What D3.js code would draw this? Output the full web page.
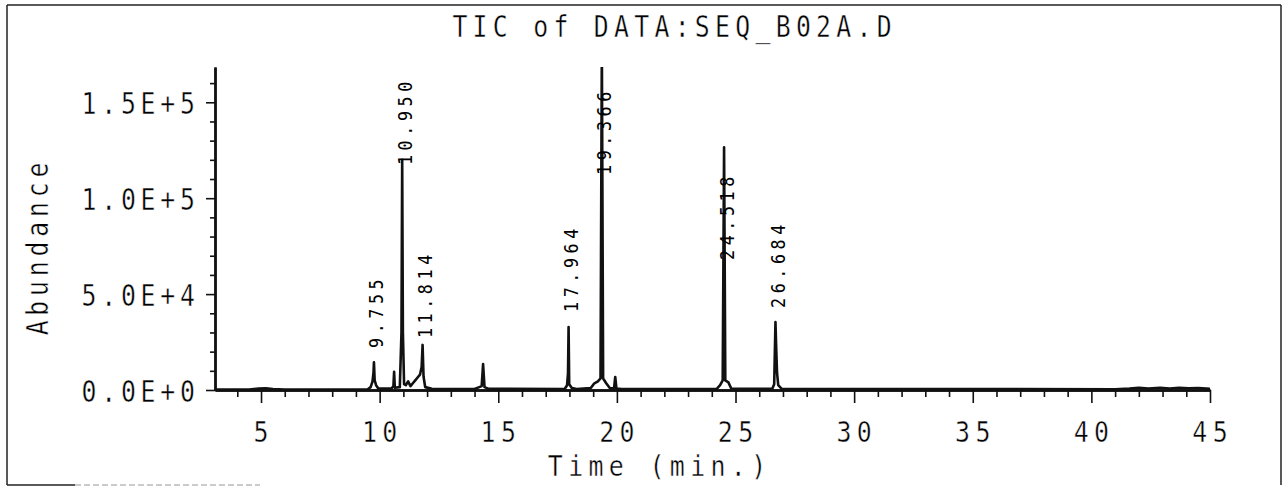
<!DOCTYPE html>
<html>
<head>
<meta charset="utf-8">
<script src="https://cdn.jsdelivr.net/npm/d3@7"></script>
<style>
  body { margin: 0; background: #fff; }
  svg { display: block; }
  .plot { font-family: "DejaVu Sans Mono", monospace; fill: #000; }
  .thin { stroke: #fff; stroke-width: 0.45px; }
</style>
</head>
<body>
<svg id="tic" width="1285" height="487"></svg>
<script>
// total ion chromatogram
const times = [
  3.05, 4.5, 4.9, 5.2, 5.5, 6.0, 9.5, 9.62, 9.7, 9.74, 9.76, 9.79, 9.85, 9.95,
  10.5, 10.58, 10.61, 10.64, 10.85, 10.92, 10.95, 10.98, 11.03, 11.1, 11.2, 11.3,
  11.4, 11.5, 11.6, 11.7, 11.77, 11.81, 11.85, 11.92, 12.2, 14.0, 14.2, 14.3,
  14.36, 14.42, 14.6, 17.8, 17.9, 17.94, 17.964, 17.99, 18.1, 18.3, 18.9, 19.05,
  19.2, 19.31, 19.366, 19.42, 19.55, 19.7, 19.88, 19.93, 19.98, 20.2, 24.2, 24.35,
  24.46, 24.518, 24.57, 24.7, 24.82, 26.55, 26.63, 26.684, 26.71, 26.75, 26.8,
  26.95, 41.0, 41.6, 42.0, 42.4, 42.9, 43.3, 43.7, 44.1, 44.5, 45.0
];
const abundance = [
  300, 300, 700, 900, 500, 300, 400, 1500, 4500, 9000, 14500, 5000, 2500, 700,
  800, 2000, 9500, 1200, 1500, 30000, 120000, 30000, 3000, 2500, 4500, 2000,
  3500, 5000, 6500, 8000, 12000, 23500, 7000, 1500, 600, 500, 1500, 2000,
  13500, 1500, 600, 500, 2500, 9000, 32800, 3000, 1000, 500, 1000, 3500,
  4500, 6000, 180000, 6000, 3500, 1000, 800, 6800, 800, 500, 500, 2500,
  5000, 126500, 5000, 4000, 800, 600, 3000, 35400, 24000, 9000, 2500,
  600, 400, 700, 1100, 800, 1200, 700, 1100, 900, 1000, 600
];

const peakLabels = ['9.755', '10.950', '11.814', '17.964', '19.366', '24.518', '26.684'];
const peakTimes = [9.755, 10.950, 11.814, 17.964, 19.366, 24.518, 26.684];
const labelLevels = [21900, 117300, 27100, 40700, 112100, 67800, 42750];

const xMajor = [5, 10, 15, 20, 25, 30, 35, 40, 45];
const xMinor = d3.range(4, 45, 1).filter((d) => d % 5 !== 0);
const yMajor = [0, 50000, 100000, 150000];
const yMinor = [10000, 20000, 30000, 40000, 60000, 70000, 80000, 90000, 110000, 120000, 130000, 140000, 160000];
const yTickLabels = ['0.0E+0', '5.0E+4', '1.0E+5', '1.5E+5'];

const title = 'TIC of DATA:SEQ_B02A.D';
const xTitle = 'Time (min.)';
const yTitle = 'Abundance';

const plotLeft = 215;
const plotRight = 1210;
const plotTop = 67;
const plotBottom = 390;

const xscale = d3.scaleLinear().domain([3.06, 45]).range([plotLeft, plotRight]);
const yscale = d3.scaleLinear().domain([0, 168400]).range([plotBottom, plotTop]);

const svg = d3.select('#tic');

// plotter-style text: narrow mono glyphs with wide spacing
function plotText(parent, x, y, str, size, sx, ls, rot, anchor, cls) {
  let shift = 0;
  if (anchor === 'middle') shift = ls / 2;
  if (anchor === 'end') shift = ls;
  const g = parent.append('g')
    .attr('transform', `translate(${x},${y}) rotate(${rot}) scale(${sx},1)`);
  g.append('text')
    .attr('class', cls)
    .attr('x', shift)
    .attr('font-size', size)
    .attr('letter-spacing', ls)
    .attr('text-anchor', anchor)
    .text(str);
  return g;
}

// page frame
const frame = svg.append('g').attr('stroke', '#222').attr('stroke-width', 1.5).attr('fill', 'none');
frame.append('line').attr('x1', 7).attr('y1', 5).attr('x2', 1281).attr('y2', 5);
frame.append('line').attr('x1', 7).attr('y1', 5).attr('x2', 7).attr('y2', 485);
frame.append('line').attr('x1', 1281).attr('y1', 5).attr('x2', 1281).attr('y2', 485);
frame.append('line').attr('x1', 7).attr('y1', 485).attr('x2', 75).attr('y2', 485);
frame.append('line').attr('x1', 75).attr('y1', 485).attr('x2', 260).attr('y2', 485)
  .attr('stroke', '#bbb').attr('stroke-dasharray', '6 3');

// axes
const axisStyle = (g) => {
  g.selectAll('path, line').attr('stroke', '#111').attr('stroke-width', 1.6);
  g.select('.domain').attr('stroke-width', 2.4);
};

svg.append('g')
  .attr('transform', `translate(0, ${plotBottom})`)
  .call(d3.axisBottom(xscale).tickValues(xMajor).tickSize(13).tickSizeOuter(0).tickFormat(''))
  .call(axisStyle);
svg.append('g')
  .attr('transform', `translate(0, ${plotBottom})`)
  .call(d3.axisBottom(xscale).tickValues(xMinor).tickSize(7).tickSizeOuter(0).tickFormat(''))
  .call(axisStyle);

svg.append('g')
  .attr('transform', `translate(${plotLeft}, 0)`)
  .call(d3.axisLeft(yscale).tickValues(yMajor).tickSize(9).tickSizeOuter(0).tickFormat(''))
  .call(axisStyle);
svg.append('g')
  .attr('transform', `translate(${plotLeft}, 0)`)
  .call(d3.axisLeft(yscale).tickValues(yMinor).tickSize(5).tickSizeOuter(0).tickFormat(''))
  .call(axisStyle);

// tick labels
const labels = svg.append('g');
xMajor.forEach((d) => {
  plotText(labels, xscale(d), 442, String(d), 29, 0.86, 6.2, 0, 'middle', 'plot thin');
});
yMajor.forEach((d, i) => {
  plotText(labels, 195, yscale(d) + 11.5, yTickLabels[i], 31, 0.8, 6, 0, 'end', 'plot thin');
});

plotText(labels, 672, 37, title, 31, 0.8, 6.6, 0, 'middle', 'plot thin');
plotText(labels, 657, 476, xTitle, 29, 0.86, 6.2, 0, 'middle', 'plot thin');
plotText(labels, 48, 249, yTitle, 31, 0.8, 6, -90, 'middle', 'plot thin');

// trace
svg.append('clipPath').attr('id', 'plotclip')
  .append('rect').attr('x', plotLeft).attr('y', plotTop)
  .attr('width', plotRight - plotLeft).attr('height', plotBottom - plotTop + 4);

const line = d3.line()
  .x((d, i) => xscale(times[i]))
  .y((d) => yscale(d));

svg.append('path')
  .datum(abundance)
  .attr('clip-path', 'url(#plotclip)')
  .attr('d', line)
  .attr('fill', 'none')
  .attr('stroke', '#111')
  .attr('stroke-width', 2.6)
  .attr('stroke-linejoin', 'round');

// retention time labels
const peaks = svg.append('g');
peakTimes.forEach((t, i) => {
  plotText(peaks, xscale(t) + 9.5, yscale(labelLevels[i]), peakLabels[i], 19, 0.88, 5.2, -90, 'start', 'plot');
});
</script>
</body>
</html>
